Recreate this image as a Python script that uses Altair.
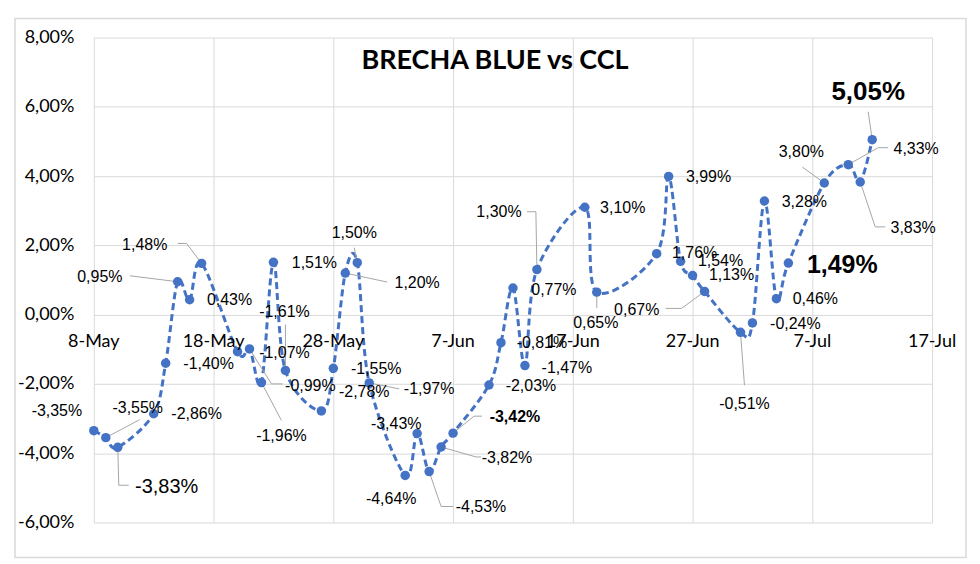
import altair as alt
import pandas as pd

# ---------------- data ----------------
dates = [
    "2019-05-08", "2019-05-09", "2019-05-10", "2019-05-13", "2019-05-14", "2019-05-15",
    "2019-05-16", "2019-05-17", "2019-05-20", "2019-05-21", "2019-05-22", "2019-05-23",
    "2019-05-24", "2019-05-27", "2019-05-28", "2019-05-29", "2019-05-30", "2019-05-31",
    "2019-06-03", "2019-06-04", "2019-06-05", "2019-06-06", "2019-06-07", "2019-06-10",
    "2019-06-11", "2019-06-12", "2019-06-13", "2019-06-14", "2019-06-18", "2019-06-19",
    "2019-06-24", "2019-06-25", "2019-06-26", "2019-06-27", "2019-06-28", "2019-07-01",
    "2019-07-02", "2019-07-03", "2019-07-04", "2019-07-05", "2019-07-08", "2019-07-10",
    "2019-07-11", "2019-07-12",
]
values = [
    -3.35, -3.55, -3.83, -2.86, -1.40, 0.95,
    0.43, 1.48, -1.07, -0.99, -1.96, 1.51,
    -1.61, -2.78, -1.55, 1.20, 1.50, -1.97,
    -4.64, -3.43, -4.53, -3.82, -3.42, -2.03,
    -0.81, 0.77, -1.47, 1.30, 3.10, 0.65,
    1.76, 3.99, 1.54, 1.13, 0.67, -0.51,
    -0.24, 3.28, 0.46, 1.49, 3.80, 4.33,
    3.83, 5.05,
]
tick_days = [0, 10, 20, 30, 40, 50, 60, 70]
tick_labels = ["8-May", "18-May", "28-May", "7-Jun", "17-Jun", "27-Jun", "7-Jul", "17-Jul"]
y_ticks = [-6, -4, -2, 0, 2, 4, 6, 8]
title_text = "BRECHA BLUE vs CCL"

# ---------------- layout (pixel offsets of labels / leader lines) ----------------
label_dx = [-37, 32, 49, 43, 43, -78, 40, -57, 47, 61, 20, 41, -1, 43, 43, 72, -3, 60,
            -14, -21, 52, 66, 62, 42, 41, 41, 42, -38, 38, -1, 38, 40, 40, 39, -68, 4,
            43, 40, 39, 54, -23, 68, 53, -4]
label_dy = [-20, -30, 40, 0, 1, -5, 0, -18, 1, 37, 54, 1, -59, -19, 1, 10, -30, 6,
            24, -9, 35, 11, -16, 1, 0, 2, 2, -58, 1, 31, -1, 1, 0, 0, 19, 72,
            1, 1, 0, 2, -31, -16, 46, -48]
leaders = {
    1: [(34, -18)],
    2: [(1, 38), (11, 38)],
    5: [(-48, -6)],
    7: [(-15, -20), (-24, -20)],
    9: [(22, 35), (33, 35)],
    10: [(20, 38)],
    12: [(0, -46)],
    15: [(42, 9)],
    16: [(-3, -15)],
    17: [(30, 6)],
    20: [(12, 35), (24, 35)],
    21: [(35, 10), (40, 10)],
    22: [(21, -17), (29, -17)],
    27: [(-1, -58), (-10, -58)],
    29: [(0, 16)],
    34: [(-23, 17), (-39, 17)],
    35: [(4, 53)],
    40: [(-22, -16)],
    41: [(30, -17), (40, -17)],
    42: [(15, 45), (25, 45)],
    43: [(-4, -28)],
}
special = {2: (20, "normal"), 22: (16, "bold"), 39: (25, "bold"), 43: (26, "bold")}
BASE_SIZE = 16

W, H = 840, 486
X_MIN, X_MAX = 0, 70
Y_MIN, Y_MAX = -6, 8
px_day = W / (X_MAX - X_MIN)
px_val = H / (Y_MAX - Y_MIN)

BLUE = "#4472C4"
GRID = "#d9d9d9"
LABEL_FONT = "Liberation Sans"
AXIS_FONT = "Lato"

start = pd.Timestamp(dates[0])
days = [(pd.Timestamp(d) - start).days for d in dates]


def fmt(v):
    return ("-" if v < 0 else "") + f"{abs(v):.2f}".replace(".", ",") + "%"


pts = pd.DataFrame({"day": days, "value": values, "date": dates})

lab_rows = []
for i, (d, v) in enumerate(zip(days, values)):
    size, weight = special.get(i, (BASE_SIZE, "normal"))
    lab_rows.append({
        "day": d + label_dx[i] / px_day,
        "value": v - label_dy[i] / px_val,
        "text": fmt(v),
        "size": size,
        "weight": weight,
    })
lab = pd.DataFrame(lab_rows)

lead_rows = []
for i, segs in leaders.items():
    d, v = days[i], values[i]
    lead_rows.append({"id": i, "o": 0, "day": d, "value": v})
    for k, (ox, oy) in enumerate(segs):
        lead_rows.append({"id": i, "o": k + 1, "day": d + ox / px_day, "value": v - oy / px_val})
lead = pd.DataFrame(lead_rows)

ticks = pd.DataFrame({"day": tick_days, "label": tick_labels, "value": [0] * len(tick_days)})

xs = alt.Scale(domain=[X_MIN, X_MAX], nice=False, zero=False)
ys = alt.Scale(domain=[Y_MIN, Y_MAX], nice=False, zero=False)

x_axis = alt.Axis(values=tick_days, grid=True, gridColor=GRID, gridWidth=1, labels=False,
                  ticks=False, domain=False, title=None)
y_axis = alt.Axis(values=y_ticks, grid=True, gridColor=GRID, gridWidth=1, ticks=False,
                  domain=False, title=None, labelFont=AXIS_FONT, labelFontSize=18,
                  labelColor="#000000", labelPadding=20,
                  labelExpr="(datum.value < 0 ? '-' : '') + replace(format(abs(datum.value), '.2f'), '.', ',') + '%'")

X = alt.X("day:Q", scale=xs, axis=x_axis, title=None)
Y = alt.Y("value:Q", scale=ys, axis=y_axis, title=None)

line = alt.Chart(pts).mark_line(
    interpolate="cardinal", color=BLUE, strokeWidth=3, strokeDash=[7, 4]
).encode(x=X, y=Y, order="day:Q")

points = alt.Chart(pts).mark_circle(size=90, opacity=1, color=BLUE).encode(x=X, y=Y)

leader_lines = alt.Chart(lead).mark_line(color="#a6a6a6", strokeWidth=1).encode(
    x=X, y=Y, detail="id:N", order="o:Q",
)

labels_normal = alt.Chart(lab).transform_filter("datum.weight == 'normal'").mark_text(
    font=LABEL_FONT, color="#000000", align="center", baseline="middle"
).encode(
    x=X, y=Y, text="text:N",
    size=alt.Size("size:Q", scale=None, legend=None),
)

labels_bold = alt.Chart(lab).transform_filter("datum.weight == 'bold'").mark_text(
    font=LABEL_FONT, fontWeight="bold", color="#000000", align="center", baseline="middle"
).encode(
    x=X, y=Y, text="text:N",
    size=alt.Size("size:Q", scale=None, legend=None),
)

xlabels = alt.Chart(ticks).mark_text(
    font=AXIS_FONT, fontSize=18, color="#000000", align="center", baseline="middle", dy=27
).encode(x=X, y=Y, text="label:N")

frame = alt.Chart(pd.DataFrame({"a": [0]})).mark_rect(
    fill=None, stroke=GRID, strokeWidth=1.5
).encode(
    x=alt.value(-79), x2=alt.value(874), y=alt.value(-19), y2=alt.value(521)
)

title = alt.Chart(pd.DataFrame({"t": [title_text]})).mark_text(
    font="Lato", fontWeight="bold", fontSize=27, color="#000000",
    align="center", baseline="middle"
).encode(
    x=alt.value(402), y=alt.value(24), text="t:N"
)

chart = alt.layer(
    line, frame, leader_lines, points, labels_normal, labels_bold, xlabels, title
).properties(
    width=W, height=H,
    autosize=alt.AutoSizeParams(type="none"),
    padding={"left": 86, "top": 29, "right": 40, "bottom": 40},
).configure_view(stroke=None)

chart.save("out.html", embed_options={"renderer": "svg", "actions": False})
